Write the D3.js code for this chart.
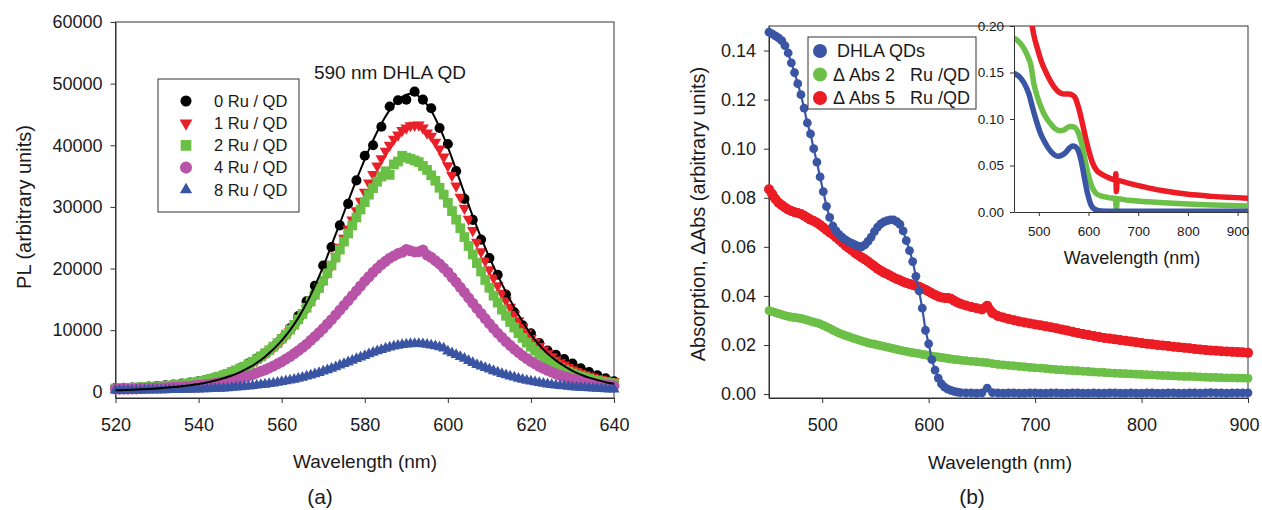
<!DOCTYPE html>
<html lang="en">
<head>
<meta charset="utf-8">
<title>PL quenching and absorption</title>
<script src="https://d3js.org/d3.v7.min.js"></script>
<style>
  body { margin: 0; background: #fff; }
  svg { display: block; }
  .axis path, .axis line { stroke: #333; }
  .axis text { font-family: "Liberation Sans", Arial, sans-serif; font-size: 18px; fill: #1a1a1a; }
  .inset .axis text { font-size: 13.5px; }
  .lbl { font-family: "Liberation Sans", Arial, sans-serif; fill: #1a1a1a; }
</style>
</head>
<body>
<svg id="chart" width="1262" height="510"></svg>
<script>
// ---------- panel (a): PL spectra ----------
var plWlDots = d3.range(520, 641, 2);   // 0 Ru dots and fit
var plWl = d3.range(520, 641, 1);       // other series
var plXTicks = [520, 540, 560, 580, 600, 620, 640];
var plYTicks = [0, 10000, 20000, 30000, 40000, 50000, 60000];
var plLabels = ["0 Ru / QD", "1 Ru / QD", "2 Ru / QD", "4 Ru / QD", "8 Ru / QD"];

var pl0Ru = [600,650,700,750,850,950,1050,1200,1350,1500,1700,1950,2300,2700,3200,3800,4600,5400,6200,7300,
  8600,10300,12300,14700,17200,20500,23500,27000,30500,34300,38300,40000,43000,46300,47300,47400,48700,47400,46000,42800,
  40200,35800,31300,27900,24700,21700,19000,15800,12900,10800,9500,7900,6700,6000,5300,4600,3800,3200,2700,2200,1700];

var plFit = [250,290,340,400,470,550,650,770,910,1080,1280,1530,1830,2200,2650,3200,3870,4700,5700,6900,
  8300,10000,12000,14400,17200,20300,23800,27300,30900,34400,37700,40800,43500,45700,47300,48200,48300,47400,45600,42900,
  39700,36000,32200,28500,25000,21800,18900,16200,13700,11400,9300,7600,6200,5100,4200,3400,2800,2300,1900,1550,1300];

var pl1Ru = [540,560,580,600,620,640,690,730,770,820,
  860,900,950,990,1050,1120,1200,1290,1380,1460,
  1590,1720,1850,1980,2170,2360,2580,2790,3050,3310,
  3630,3960,4300,4640,5090,5550,6040,6540,7120,7700,
  8360,9030,9820,10620,11520,12430,13440,14450,15610,16770,
  18020,19260,20640,22020,23480,24940,26420,27910,29410,30920,
  32400,33880,35260,36640,37840,39040,40010,40980,41690,42400,
  42800,43200,43250,43300,42800,42000,41500,40500,39400,38100,
  36700,35100,33400,31600,29800,28000,26200,24290,22730,21260,
  19830,18530,17230,16020,14810,13720,12600,11560,10520,9570,
  8660,8100,7400,6800,6200,5700,5200,4750,4350,3950,
  3600,3300,3050,2800,2600,2400,2200,2050,1900,1750,1650];

var pl2Ru = [540,560,580,600,640,680,710,750,790,830,
  860,900,960,1010,1090,1160,1240,1310,1430,1540,
  1650,1760,1930,2100,2290,2480,2700,2930,3210,3490,
  3790,4090,4480,4880,5310,5740,6240,6750,7330,7910,
  8610,9300,10090,10880,11760,12640,13650,14660,15750,16840,
  18040,19240,20510,21790,23080,24380,25690,27000,28290,29590,
  30790,31990,33040,34090,34930,35780,35200,36900,37370,38300,
  38000,37800,37540,37280,36640,36000,35120,34240,33110,31990,
  30660,29330,27940,26550,25110,23660,22280,20890,19520,18150,
  16880,15600,14480,13350,12340,11330,10430,9530,8760,7990,
  7330,6680,6130,5590,5120,4650,4260,3860,3560,3260,
  2980,2700,2510,2330,2120,1910,1780,1650,1540,1430,1350];

var pl4Ru = [440,450,460,470,480,500,530,550,570,590,
  620,640,660,700,730,770,820,870,910,980,
  1050,1110,1180,1280,1380,1500,1610,1750,1880,2050,
  2220,2400,2580,2820,3060,3320,3580,3880,4190,4540,
  4890,5310,5720,6200,6670,7200,7740,8350,8960,9610,
  10270,10990,11710,12480,13250,14030,14810,15600,16390,17170,
  17950,18670,19400,20030,20660,21170,21680,22050,22430,22640,
  23100,22880,22700,22740,23000,22200,21820,21280,20750,20080,
  19400,18590,17790,16960,16120,15250,14380,13540,12710,11880,
  11060,10290,9520,8840,8160,7550,6940,6400,5860,5400,
  4930,4540,4140,3810,3490,3200,2920,2680,2450,2270,
  2090,1920,1750,1630,1520,1400,1270,1190,1110,1050,980];

var pl8Ru = [250,250,250,250,260,260,270,280,280,290,
  300,310,310,320,330,340,360,370,390,410,
  430,450,470,500,530,560,600,640,690,730,
  790,850,910,970,1050,1130,1210,1300,1400,1510,
  1630,1740,1880,2020,2180,2340,2520,2700,2910,3110,
  3330,3550,3790,4040,4300,4550,4820,5080,5350,5610,
  5870,6140,6380,6620,6830,7050,7220,7390,7520,7640,
  7710,7780,7790,7800,7750,7690,7560,7440,7260,7080,
  6600,6300,6000,5700,5400,5050,4700,4400,4150,3900,
  3650,3400,3170,2950,2740,2540,2350,2170,2000,1850,
  1710,1580,1460,1350,1250,1160,1080,1000,930,860,
  800,750,700,650,610,570,530,500,470,440,420];

// ---------- panel (b): absorption ----------
var absWl = d3.range(450, 631, 3).concat(d3.range(635, 901, 5));
var absXTicks = [500, 600, 700, 800, 900];
var absYTicks = [0, 0.02, 0.04, 0.06, 0.08, 0.10, 0.12, 0.14];
var absLabels = ["DHLA QDs", "\u0394 Abs 2   Ru /QD", "\u0394 Abs 5   Ru /QD"];

var absQD = [0.1475,0.1468,0.1460,0.1452,0.1440,0.1420,0.1390,0.1350,0.1310,0.1265,
  0.1220,0.1165,0.1105,0.1060,0.1000,0.0945,0.0885,0.0825,0.0765,0.0720,
  0.0685,0.0665,0.0650,0.0638,0.0628,0.0620,0.0614,0.0608,0.0603,0.0600,
  0.0608,0.0622,0.0640,0.0662,0.0680,0.0694,0.0702,0.0707,0.0710,0.0710,
  0.0703,0.0692,0.0665,0.0625,0.0585,0.0540,0.0480,0.0420,0.0350,0.0260,
  0.0205,0.0140,0.0098,0.0065,0.0042,0.0028,0.0020,0.0015,0.0011,0.0008,0.0006,
  0.0005,0.0005,0.0004,0.0005,0.0024,0.0006,0.0005,0.0004,0.0005,0.0005,
  0.0004,0.0004,0.0005,0.0005,0.0004,0.0004,0.0005,0.0005,0.0004,0.0004,
  0.0005,0.0005,0.0004,0.0004,0.0005,0.0004,0.0004,0.0005,0.0005,0.0004,
  0.0004,0.0005,0.0004,0.0004,0.0005,0.0005,0.0004,0.0004,0.0005,0.0005,
  0.0004,0.0004,0.0005,0.0005,0.0004,0.0005,0.0006,0.0005,0.0005,0.0004,
  0.0005,0.0005,0.0005,0.0005];

var absD2 = [0.0340,0.0336,0.0332,0.0328,0.0324,0.0320,0.0317,0.0314,0.0312,0.0310,
  0.0308,0.0305,0.0301,0.0297,0.0293,0.0290,0.0286,0.0280,0.0274,0.0268,
  0.0261,0.0254,0.0248,0.0243,0.0238,0.0234,0.0229,0.0225,0.0221,0.0217,
  0.0213,0.0209,0.0206,0.0203,0.0200,0.0197,0.0194,0.0191,0.0188,0.0185,
  0.0182,0.0179,0.0176,0.0174,0.0171,0.0169,0.0167,0.0165,0.0162,0.0160,
  0.0157,0.0155,0.0153,0.0151,0.0149,0.0147,0.0145,0.0143,0.0141,0.0140,0.0138,
  0.0136,0.0134,0.0132,0.0130,0.0128,0.0124,0.0121,0.0119,0.0117,0.0115,
  0.0113,0.0111,0.0109,0.0107,0.0106,0.0104,0.0102,0.0100,0.0099,0.0097,
  0.0096,0.0095,0.0093,0.0092,0.0090,0.0089,0.0088,0.0086,0.0085,0.0084,
  0.0083,0.0082,0.0081,0.0080,0.0079,0.0078,0.0077,0.0076,0.0075,0.0074,
  0.0073,0.0072,0.0072,0.0071,0.0070,0.0069,0.0068,0.0068,0.0067,0.0066,
  0.0066,0.0065,0.0065,0.0064];

var absD5 = [0.0835,0.0815,0.0795,0.0780,0.0770,0.0760,0.0752,0.0746,0.0741,0.0738,
  0.0734,0.0727,0.0719,0.0711,0.0705,0.0698,0.0689,0.0679,0.0669,0.0659,
  0.0650,0.0639,0.0628,0.0617,0.0605,0.0595,0.0585,0.0575,0.0566,0.0557,
  0.0549,0.0540,0.0530,0.0521,0.0511,0.0503,0.0495,0.0489,0.0482,0.0475,
  0.0469,0.0464,0.0458,0.0453,0.0449,0.0445,0.0441,0.0437,0.0431,0.0425,
  0.0418,0.0411,0.0404,0.0398,0.0394,0.0392,0.0392,0.0388,0.0380,0.0373,0.0368,
  0.0361,0.0355,0.0350,0.0345,0.0360,0.0330,0.0318,0.0312,0.0306,0.0301,
  0.0296,0.0292,0.0288,0.0284,0.0280,0.0276,0.0272,0.0268,0.0263,0.0259,
  0.0254,0.0249,0.0245,0.0241,0.0237,0.0233,0.0229,0.0226,0.0223,0.0220,
  0.0217,0.0214,0.0211,0.0208,0.0205,0.0203,0.0200,0.0198,0.0196,0.0193,
  0.0191,0.0189,0.0187,0.0184,0.0182,0.0180,0.0178,0.0177,0.0175,0.0174,
  0.0172,0.0171,0.0170,0.0168];

// inset: full absorption spectra, [wavelength, absorbance]
var insetXTicks = [500, 600, 700, 800, 900];
var insetYTicks = [0, 0.05, 0.10, 0.15, 0.20];
var insetQD = [[450,.149],[460,.146],[470,.139],[480,.127],[487,.113],[495,.098],[503,.085],[511,.076],[520,.068],
  [530,.062],[538,.060],[546,.061],[554,.064],[562,.069],[568,.071],[574,.070],[580,.065],[586,.053],[592,.036],
  [598,.020],[604,.009],[612,.003],[625,.001],[650,.0008],[700,.0008],[750,.0008],[800,.0008],[850,.0008],[920,.0008]];
var insetRu2 = [[450,.187],[460,.183],[470,.176],[478,.167],[484,.158],[490,.138],[497,.124],[505,.112],[513,.103],
  [522,.096],[532,.090],[542,.0875],[550,.088],[558,.091],[565,.092],[572,.091],[579,.086],[586,.074],[593,.056],
  [600,.039],[607,.027],[615,.020],[625,.0173],[640,.0155],[654,.0145],[656,.003],[658,.0143],[680,.0126],
  [720,.011],[760,.0097],[800,.0086],[850,.0076],[920,.0065]];
var insetRu5 = [[485,.205],[490,.190],[497,.176],[505,.162],[512,.153],[520,.144],[530,.135],[540,.129],[550,.127],
  [560,.127],[567,.126],[574,.122],[580,.112],[587,.097],[594,.080],[601,.065],[608,.053],[616,.045],[625,.041],
  [640,.037],[654,.0345],[655,.041],[656,.022],[658,.034],[680,.031],[720,.026],[760,.022],[800,.019],[850,.0168],[920,.0148]];

var svg = d3.select("#chart");
svg.append("rect").attr("width", 1262).attr("height", 510).attr("fill", "#fff");

// ================= panel (a) =================
var ax = d3.scaleLinear().domain([520, 640]).range([115.5, 614]);
var ay = d3.scaleLinear().domain([-1000, 60000]).range([398, 22]);
var ga = svg.append("g");

ga.append("g").attr("class", "axis").attr("transform", "translate(0," + ay.range()[0] + ")")
    .call(d3.axisBottom(ax).tickValues(plXTicks).tickSize(5).tickSizeOuter(0).tickPadding(15));
ga.append("g").attr("class", "axis").attr("transform", "translate(" + ax.range()[0] + ",0)")
    .call(d3.axisLeft(ay).tickValues(plYTicks).tickFormat(d3.format("d")).tickSize(5).tickSizeOuter(0).tickPadding(8));
ga.append("rect")
    .attr("x", ax.range()[0]).attr("y", ay.range()[1])
    .attr("width", ax.range()[1] - ax.range()[0]).attr("height", ay.range()[0] - ay.range()[1])
    .attr("fill", "none").attr("stroke", "#333");

var plSeries = [
  { vals: pl0Ru, wl: plWlDots, color: "#000000", type: d3.symbolCircle, size: 80, rot: 0 },
  { vals: pl1Ru, wl: plWl, color: "#e8202a", type: d3.symbolTriangle, size: 60, rot: 180 },
  { vals: pl2Ru, wl: plWl, color: "#6abf45", type: d3.symbolSquare, size: 95, rot: 0 },
  { vals: pl4Ru, wl: plWl, color: "#b853a8", type: d3.symbolCircle, size: 95, rot: 0 },
  { vals: pl8Ru, wl: plWl, color: "#3a54a4", type: d3.symbolTriangle, size: 55, rot: 0 }
];

plSeries.forEach(function (s) {
  var sym = d3.symbol().type(s.type).size(s.size)();
  ga.append("g").selectAll("path")
    .data(s.vals)
    .join("path")
    .attr("d", sym)
    .attr("fill", s.color)
    .attr("transform", function (d, i) {
      return "translate(" + ax(s.wl[i]) + "," + ay(d) + ") rotate(" + s.rot + ")";
    });
});

var fitLine = d3.line()
    .x(function (d, i) { return ax(plWlDots[i]); })
    .y(function (d) { return ay(d); })
    .curve(d3.curveCatmullRom);
ga.append("path").attr("d", fitLine(plFit))
    .attr("fill", "none").attr("stroke", "#000").attr("stroke-width", 2);

ga.append("text").attr("class", "lbl").attr("x", 390).attr("y", 72).attr("dy", "0.35em")
    .attr("text-anchor", "middle").attr("font-size", 19).text("590 nm DHLA QD");

// legend (a)
var legA = ga.append("g");
legA.append("rect").attr("x", 158).attr("y", 79).attr("width", 141).attr("height", 133)
    .attr("fill", "#fff").attr("stroke", "#333");
plSeries.forEach(function (s, i) {
  var yy = 101 + i * 22.2;
  legA.append("path").attr("d", d3.symbol().type(s.type).size(s.size * 1.2)())
      .attr("fill", s.color)
      .attr("transform", "translate(186," + yy + ") rotate(" + s.rot + ")");
  legA.append("text").attr("class", "lbl").attr("x", 214).attr("y", yy).attr("dy", "0.35em")
      .attr("font-size", 16.5).text(plLabels[i]);
});

ga.append("text").attr("class", "lbl")
    .attr("transform", "translate(24,207) rotate(-90)")
    .attr("text-anchor", "middle").attr("dy", "0.35em").attr("font-size", 20)
    .text("PL (arbitrary units)");
ga.append("text").attr("class", "lbl").attr("x", 365).attr("y", 461).attr("dy", "0.35em")
    .attr("text-anchor", "middle").attr("font-size", 19).text("Wavelength (nm)");
ga.append("text").attr("class", "lbl").attr("x", 320).attr("y", 497).attr("dy", "0.35em")
    .attr("text-anchor", "middle").attr("font-size", 21).text("(a)");

// ================= panel (b) =================
var bx = d3.scaleLinear().domain([450, 900]).range([769, 1248]);
var by = d3.scaleLinear().domain([-0.0016, 0.15]).range([398, 26]);
var gb = svg.append("g");

var bxAxis = gb.append("g").attr("class", "axis").attr("transform", "translate(0," + by.range()[0] + ")")
    .call(d3.axisBottom(bx).tickValues(absXTicks).tickSize(5).tickSizeOuter(0).tickPadding(15));
// keep the last label inside the page edge
bxAxis.selectAll(".tick text").filter(function (d) { return d === 900; }).attr("dx", -4);
gb.append("g").attr("class", "axis").attr("transform", "translate(" + bx.range()[0] + ",0)")
    .call(d3.axisLeft(by).tickValues(absYTicks).tickFormat(d3.format(".2f")).tickSize(5).tickSizeOuter(0).tickPadding(8));
gb.append("rect")
    .attr("x", bx.range()[0]).attr("y", by.range()[1])
    .attr("width", bx.range()[1] - bx.range()[0]).attr("height", by.range()[0] - by.range()[1])
    .attr("fill", "none").attr("stroke", "#333");

var absLine = d3.line()
    .x(function (d, i) { return bx(absWl[i]); })
    .y(function (d) { return by(d); });

var absSeries = [
  { vals: absD2, color: "#6cbf47", width: 8, r: 4.4 },
  { vals: absD5, color: "#ec1c24", width: 9, r: 5 },
  { vals: absQD, color: "#3b55a5", width: 2.2, r: 4.4 }
];
absSeries.forEach(function (s) {
  gb.append("path").attr("d", absLine(s.vals))
      .attr("fill", "none").attr("stroke", s.color).attr("stroke-width", s.width)
      .attr("stroke-linecap", "round").attr("stroke-linejoin", "round");
  gb.append("g").selectAll("circle")
      .data(s.vals)
      .join("circle")
      .attr("cx", function (d, i) { return bx(absWl[i]); })
      .attr("cy", function (d) { return by(d); })
      .attr("r", s.r)
      .attr("fill", s.color);
});

// legend (b)
var legColors = ["#3b55a5", "#6cbf47", "#ec1c24"];
var legB = gb.append("g");
legB.append("rect").attr("x", 808).attr("y", 37).attr("width", 168).attr("height", 72)
    .attr("fill", "#fff").attr("stroke", "#333");
absLabels.forEach(function (t, i) {
  var yy = 51 + i * 23.5;
  legB.append("circle").attr("cx", 820).attr("cy", yy).attr("r", 7).attr("fill", legColors[i]);
  legB.append("text").attr("class", "lbl").attr("x", i === 0 ? 837 : 833).attr("y", yy).attr("dy", "0.35em")
      .attr("font-size", 18).style("white-space", "pre").text(t);
});

// inset
var ix = d3.scaleLinear().domain([450, 921]).range([1014, 1248]);
var iy = d3.scaleLinear().domain([0, 0.20]).range([212, 26]);
var gi = gb.append("g").attr("class", "inset");

svg.append("defs").append("clipPath").attr("id", "insetClip")
  .append("rect").attr("x", ix.range()[0]).attr("y", iy.range()[1])
  .attr("width", ix.range()[1] - ix.range()[0]).attr("height", iy.range()[0] - iy.range()[1]);

var insetLine = d3.line()
    .x(function (d) { return ix(d[0]); })
    .y(function (d) { return iy(d[1]); })
    .curve(d3.curveMonotoneX);
var insetSeries = [
  { vals: insetRu5, color: "#ec1c24" },
  { vals: insetRu2, color: "#6cbf47" },
  { vals: insetQD, color: "#3b55a5" }
];
var gic = gi.append("g").attr("clip-path", "url(#insetClip)");
insetSeries.forEach(function (s) {
  gic.append("path").attr("d", insetLine(s.vals))
      .attr("fill", "none").attr("stroke", s.color).attr("stroke-width", 5.5)
      .attr("stroke-linecap", "round").attr("stroke-linejoin", "round");
});

gi.append("g").attr("class", "axis").attr("transform", "translate(0," + iy.range()[0] + ")")
    .call(d3.axisBottom(ix).tickValues(insetXTicks).tickSize(4).tickSizeOuter(0).tickPadding(10));
gi.append("g").attr("class", "axis").attr("transform", "translate(" + ix.range()[0] + ",0)")
    .call(d3.axisLeft(iy).tickValues(insetYTicks).tickFormat(d3.format(".2f")).tickSize(4).tickSizeOuter(0).tickPadding(6));
gi.append("text").attr("class", "lbl").attr("x", 1132).attr("y", 258).attr("dy", "0.35em")
    .attr("text-anchor", "middle").attr("font-size", 18).text("Wavelength (nm)");

gb.append("text").attr("class", "lbl")
    .attr("transform", "translate(698,214) rotate(-90)")
    .attr("text-anchor", "middle").attr("dy", "0.35em").attr("font-size", 20)
    .text("Absorption, \u0394Abs (arbitrary units)");
gb.append("text").attr("class", "lbl").attr("x", 1000).attr("y", 462).attr("dy", "0.35em")
    .attr("text-anchor", "middle").attr("font-size", 19).text("Wavelength (nm)");
gb.append("text").attr("class", "lbl").attr("x", 972).attr("y", 497).attr("dy", "0.35em")
    .attr("text-anchor", "middle").attr("font-size", 21).text("(b)");
</script>
</body>
</html>
